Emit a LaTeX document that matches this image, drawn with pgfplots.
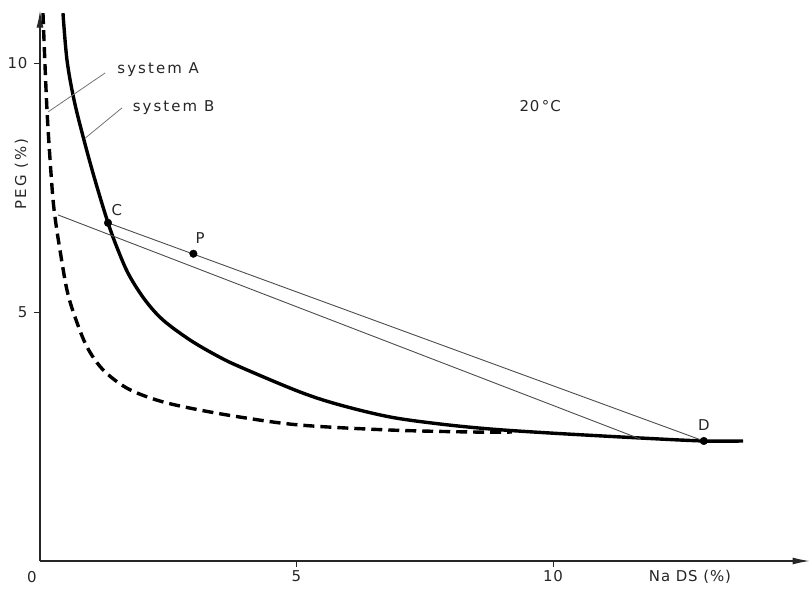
\documentclass[border=0pt]{standalone}
\usepackage{fontspec}
\setmainfont{DejaVu Sans}[LetterSpace=6.0]
\newfontfamily\widefont{DejaVu Sans}[LetterSpace=14.0]
\usepackage{pgfplots}
\pgfplotsset{compat=1.18}
\usetikzlibrary{arrows.meta}
\newcommand{\lf}{\fontsize{15}{18}\selectfont}
\tikzset{lab/.style={font=\lf, text=black!85}}
\begin{document}
\begin{tikzpicture}
\useasboundingbox (0,0) rectangle (811bp,590bp);
\begin{axis}[
  at={(40bp,29bp)}, anchor=south west,
  x=51.3bp, y=49.8bp,
  xmin=0, xmax=15, ymin=0, ymax=11.05,
  axis lines=left,
  axis line style={line width=1.1bp, black!85, -{Latex[length=17bp,width=7bp]}},
  xtick={5,10}, ytick={5,10},
  tick align=outside, major tick length=6bp,
  tick style={line width=0.9bp, black!85},
  tick label style={font=\lf, text=black!85},
  yticklabel style={xshift=-3bp},
  /pgf/number format/assume math mode=true,
  clip=false,
]
% system B (solid)
\addplot[line width=3.4bp, black, smooth, tension=0.55] coordinates {
(0.448,11.00) (0.526,10.06) (0.663,9.26) (0.858,8.45) (1.072,7.65) (1.326,6.79)
(1.520,6.245) (1.735,5.743) (2.047,5.241) (2.398,4.839) (2.924,4.438) (3.450,4.122)
(3.899,3.898) (5.068,3.394) (5.848,3.133) (6.823,2.892) (7.797,2.751) (8.772,2.651)
(9.942,2.570) (11.696,2.470) (12.943,2.410) (13.704,2.410)};
% system A (dashed)
\addplot[line width=3.4bp, black, smooth, tension=0.55, dash pattern=on 11bp off 6bp] coordinates {
(0.058,11.00) (0.136,9.06) (0.234,7.51) (0.292,6.91) (0.390,6.24) (0.526,5.44)
(0.682,4.90) (0.916,4.30) (1.228,3.84) (1.696,3.47) (2.281,3.23) (2.924,3.07)
(3.899,2.89) (5.068,2.73) (6.823,2.63) (8.44,2.59) (9.2,2.59)};
% tie lines
\addplot[line width=0.9bp, black!70] coordinates {(1.326,6.79) (12.94,2.41)};
\addplot[line width=0.9bp, black!70] coordinates {(0.35,6.95) (11.70,2.45)};
% leader lines
\addplot[line width=0.8bp, black!55] coordinates {(1.27,9.80) (0.16,9.02)};
\addplot[line width=0.8bp, black!55] coordinates {(1.60,9.10) (0.88,8.49)};
% points C, P, D
\addplot[only marks, mark=*, mark size=3.8bp, black] coordinates {(1.326,6.79) (2.99,6.17) (12.94,2.41)};
\node[lab, anchor=west] at (axis cs:1.44,9.86) {\widefont system A};
\node[lab, anchor=west] at (axis cs:1.74,9.10) {\widefont system B};
\node[lab] at (axis cs:9.75,9.14) {20\,°C};
\node[lab] at (axis cs:1.50,7.05) {C};
\node[lab] at (axis cs:3.12,6.49) {P};
\node[lab] at (axis cs:12.94,2.73) {D};
\node[lab] at (axis cs:12.67,-0.32) {Na DS (\%)};
\node[lab, rotate=90] at (axis cs:-0.36,7.77) {\widefont PEG (\%)};
\node[lab] at (axis cs:-0.16,-0.32) {0};
\end{axis}
\end{tikzpicture}
\end{document}
